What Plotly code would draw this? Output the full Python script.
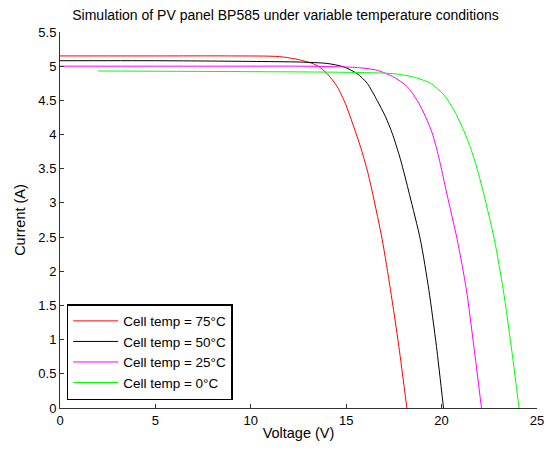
import plotly.graph_objects as go

# Values
v75 = [0, 5, 9, 11.5, 12.6, 13.48, 14.0, 14.53, 14.96, 15.40, 15.75, 16.10, 16.40, 16.89, 17.32, 17.76, 18.18]
i75 = [5.15, 5.15, 5.15, 5.14, 5.09, 5.01, 4.89, 4.70, 4.45, 4.11, 3.82, 3.48, 3.12, 2.46, 1.73, 0.90, 0.0]

v50 = [0, 5, 10, 12.6, 14.0, 14.87, 15.58, 16.10, 16.62, 17.06, 17.41, 17.85, 18.32, 18.89, 19.33, 19.73, 20.10]
i50 = [5.08, 5.08, 5.07, 5.06, 5.04, 4.99, 4.89, 4.75, 4.50, 4.26, 4.02, 3.63, 3.12, 2.46, 1.73, 0.90, 0.0]

v25 = [0, 5, 10, 12.6, 15.58, 16.62, 17.50, 18.20, 18.72, 19.16, 19.51, 19.85, 20.27, 20.82, 21.30, 21.69, 22.09]
i25 = [5.00, 5.00, 5.00, 5.00, 4.98, 4.94, 4.84, 4.70, 4.50, 4.26, 4.02, 3.67, 3.14, 2.46, 1.73, 0.90, 0.0]

v0 = [2, 10, 15, 17.50, 18.54, 19.42, 20.12, 20.64, 21.08, 21.43, 21.78, 22.20, 22.77, 23.23, 23.65, 24.06]
i0 = [4.93, 4.92, 4.91, 4.89, 4.84, 4.75, 4.58, 4.36, 4.11, 3.87, 3.58, 3.14, 2.46, 1.73, 0.90, 0.0]

series = [
    ("Cell temp = 75°C", v75, i75, "#ff0000"),
    ("Cell temp = 50°C", v50, i50, "#000000"),
    ("Cell temp = 25°C", v25, i25, "#ff00ff"),
    ("Cell temp = 0°C", v0, i0, "#00ff00"),
]

xticks = [0, 5, 10, 15, 20, 25]
yticks = [0, 0.5, 1, 1.5, 2, 2.5, 3, 3.5, 4, 4.5, 5, 5.5]
yticklabels = ["0", "0.5", "1", "1.5", "2", "2.5", "3", "3.5", "4", "4.5", "5", "5.5"]

fig = go.Figure()
for name, v, i, c in series:
    fig.add_trace(go.Scatter(x=v, y=i, mode="lines", name=name,
                             line=dict(color=c, width=1, shape="spline", smoothing=0.7)))

font = "Liberation Sans, Arial, sans-serif"
fig.update_layout(
    width=546, height=452,
    margin=dict(l=60, r=9, t=32, b=44, autoexpand=False),
    paper_bgcolor="white", plot_bgcolor="white",
    font=dict(family=font, size=13, color="black"),
    title=dict(text="Simulation of PV panel BP585 under variable temperature conditions",
               x=285.5/546, xanchor="center", y=1 - 15/452, yanchor="middle",
               font=dict(size=14, family=font)),
    xaxis=dict(range=[0, 25], tickvals=xticks, ticks="inside", ticklen=4,
               showline=True, linecolor="#333", linewidth=1, tickcolor="#333",
               showgrid=False, zeroline=False, mirror=False, automargin=False,
               tickfont=dict(size=13),
               title=dict(text="Voltage (V)", standoff=1, font=dict(size=14.5))),
    yaxis=dict(range=[0, 5.5], tickvals=yticks, ticktext=yticklabels,
               ticks="inside", ticklen=4,
               showline=True, linecolor="#333", linewidth=1, tickcolor="#333",
               showgrid=False, zeroline=False, mirror=False, automargin=False,
               tickfont=dict(size=13),
               title=dict(text="Current (A)", standoff=9, font=dict(size=14.5))),
    legend=dict(x=0.014, y=0.021, xanchor="left", yanchor="bottom",
                bordercolor="black", borderwidth=1.5, bgcolor="white",
                font=dict(size=13.5, family=font), tracegroupgap=0, itemwidth=45),
    showlegend=True,
)
fig.write_html("out.html", config={"displayModeBar": False},
               post_script="document.body.style.margin='0';document.body.style.overflow='hidden';")
